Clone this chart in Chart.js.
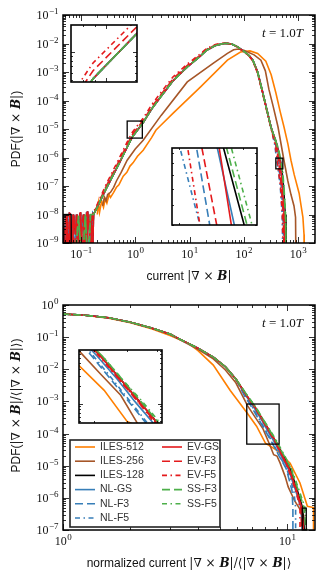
<!DOCTYPE html>
<html>
<head>
<meta charset="utf-8">
<script src="https://cdn.jsdelivr.net/npm/chart.js@4.4.0/dist/chart.umd.min.js"></script>
<style>
  html, body { margin: 0; padding: 0; background: #fff; }
  #wrap { position: relative; width: 325px; height: 581px; overflow: hidden; }
  canvas { position: absolute; background: #fff; }
</style>
</head>
<body>
<div id="wrap">
  <canvas id="top" width="325" height="290" style="left:0;top:0"></canvas>
  <canvas id="bot" width="325" height="291" style="left:0;top:290px"></canvas>
  <canvas id="insTop1" width="68" height="59" style="left:70px;top:24px"></canvas>
  <canvas id="insTop2" width="87" height="79" style="left:171px;top:147px"></canvas>
  <canvas id="insBot" width="85" height="75" style="left:78px;top:349px"></canvas>
</div>
<script>
// ---- data ----

const seriesNames = ['ILES-512', 'ILES-256', 'ILES-128', 'NL-GS', 'NL-F3', 'NL-F5',
                     'EV-GS', 'EV-F3', 'EV-F5', 'SS-F3', 'SS-F5'];

// top panel: PDF of current
const topOrangeX = [0.2, 0.21, 0.22, 0.24, 0.26, 0.28, 0.3, 0.33, 0.35, 0.4, 0.45, 0.5, 0.6, 0.7, 0.8, 0.91, 1.1, 1.4, 2, 2.4, 2.9, 5, 16, 50, 87, 130, 180, 255, 320, 392, 470, 550, 650, 741, 850, 1047, 1230, 1290, 1300];
const topOrangeY = [1e-8, 2.5e-8, 1.2e-8, 3e-8, 1.8e-8, 3.5e-8, 2.5e-8, 5e-8, 4e-8, 6e-8, 9e-8, 1.1e-7, 2.2e-7, 3e-7, 5e-7, 6.5e-7, 1.1e-6, 1.8e-6, 5e-6, 9e-6, 1.3e-5, 3.6e-5, 3e-4, 2.6e-3, 5e-3, 5.5e-3, 4.5e-3, 2.4e-3, 8e-4, 1.8e-4, 4e-5, 1.2e-5, 3e-6, 8e-7, 2.5e-7, 5.6e-8, 8e-9, 2e-9, 1e-10];
const topBrownX = [0.25, 0.27, 0.29, 0.31, 0.35, 0.4, 0.45, 0.55, 0.71, 1.0, 1.4, 3, 9.1, 28, 50, 65, 80, 100, 155, 207, 250, 290, 350, 427, 550, 650, 741, 843, 900, 918];
const topBrownY = [2e-8, 4e-8, 3e-8, 5e-8, 6e-8, 9e-8, 1.5e-7, 3e-7, 8e-7, 2e-6, 4e-6, 3e-5, 4.5e-4, 2.1e-3, 4.5e-3, 6e-3, 6.4e-3, 5.8e-3, 4e-3, 2.6e-3, 1.1e-3, 2.5e-4, 6e-5, 1.2e-5, 8e-7, 1.5e-7, 5e-8, 2e-8, 8e-9, 1e-10];

// noisy low-current bins of the LES runs
const topNoiseAX = [0.047, 0.051, 0.055, 0.059, 0.063, 0.068, 0.073, 0.079, 0.085, 0.091, 0.098, 0.106, 0.114, 0.123, 0.132, 0.142, 0.152, 0.162];
const topNoiseAY = [1e-8, 1e-10, 1e-8, 1e-10, 1.1e-8, 1e-10, 1e-8, 2e-9, 1e-8, 1e-10, 1.2e-8, 1e-10, 1e-8, 1e-10, 1.3e-8, 3e-9, 1e-8, 1e-10];
const topNoiseBX = [0.049, 0.053, 0.057, 0.061, 0.066, 0.071, 0.076, 0.082, 0.088, 0.095, 0.102, 0.11, 0.118, 0.127, 0.137, 0.147, 0.157, 0.165];
const topNoiseBY = [1e-10, 1e-8, 1e-10, 1.2e-8, 1e-10, 1e-8, 1e-10, 1e-8, 1e-10, 1.1e-8, 2e-9, 1e-8, 1e-10, 1.2e-8, 1e-10, 1e-8, 1e-10, 1.1e-8];
const topNoiseCX = [0.075, 0.09, 0.105, 0.12, 0.135, 0.15];
const topNoiseCY = [1e-10, 9e-9, 1e-10, 1e-8, 1e-10, 1e-8];

// body of the curve shared by the 128^3 runs
const topCoreX = [0.17, 0.2, 0.25, 0.3, 0.35, 0.5, 0.7, 0.88, 1.4, 2, 2.9, 5, 9.1, 15, 21, 30, 45, 60, 77, 105, 125, 147, 180, 225, 316];
const topCoreY = [1e-8, 1.8e-8, 4.5e-8, 9e-8, 1.6e-7, 6e-7, 2.2e-6, 5.2e-6, 1.7e-5, 5e-5, 1.3e-4, 5e-4, 1.5e-3, 3.3e-3, 5.9e-3, 8.5e-3, 1.02e-2, 9.6e-3, 7.6e-3, 5e-3, 3.8e-3, 2.6e-3, 1e-3, 1.8e-4, 1.2e-5];
const topCoreEvF3Y = [1.1e-8, 2e-8, 5.2e-8, 1.1e-7, 1.9e-7, 7.5e-7, 2.7e-6, 6.3e-6, 2e-5, 5.9e-5, 1.5e-4, 5.8e-4, 1.7e-3, 3.6e-3, 6.3e-3, 8.9e-3, 1.03e-2, 9.6e-3, 7.5e-3, 4.9e-3, 3.7e-3, 2.5e-3, 9.5e-4, 1.7e-4, 1.15e-5];
const topCoreEvF5Y = [1.2e-8, 2.3e-8, 6e-8, 1.3e-7, 2.3e-7, 9e-7, 3.3e-6, 7.6e-6, 2.4e-5, 7e-5, 1.8e-4, 6.8e-4, 1.9e-3, 4e-3, 6.8e-3, 9.3e-3, 1.05e-2, 9.6e-3, 7.4e-3, 4.8e-3, 3.6e-3, 2.4e-3, 9e-4, 1.6e-4, 1.1e-5];

// high-current tails, x where each run crosses these levels
const topTailY = [3e-6, 9.5e-7, 4e-7, 1e-7, 1e-8, 1e-10];
const topTailIles128 = [405, 467, 502, 540, 580, 600];
const topTailNlGs = [400, 457, 485, 520, 560, 580];
const topTailNlF3 = [385, 425, 445, 490, 530, 555];
const topTailNlF5 = [370, 401, 430, 470, 510, 530];
const topTailEvGs = [400, 460, 480, 515, 555, 575];
const topTailEvF3 = [390, 433, 456, 495, 535, 560];
const topTailEvF5 = [375, 412, 430, 475, 515, 540];
const topTailSsF3 = [405, 472, 507, 545, 585, 610];
const topTailSsF5 = [410, 480, 516, 550, 590, 615];

// bottom panel: PDF of normalized current
const botOrangeX = [0.98, 1.25, 1.6, 2, 2.5, 3, 3.6, 4, 4.68, 5.57, 6.6, 7.3, 8.0, 9.0, 10.3, 11.4, 12.3, 13.1, 13.1];
const botOrangeY = [0.53, 0.48, 0.39, 0.28, 0.18, 0.112, 0.066, 0.038, 0.0135, 2.2e-3, 4.5e-4, 1.7e-4, 5e-5, 3e-5, 1.2e-5, 2.9e-6, 5.5e-7, 5e-7, 1e-9];
const botBrownX = [0.98, 1.25, 1.6, 2, 2.5, 3, 3.33, 4, 4.68, 5.3, 5.9, 6.65, 7.2, 7.8, 8.3, 8.7, 9.0, 9.3, 9.8, 10.1, 10.8, 11.5, 11.8, 11.85];
const botBrownY = [0.53, 0.48, 0.4, 0.29, 0.19, 0.122, 0.082, 0.042, 0.021, 0.0095, 3.8e-3, 7.4e-4, 3.2e-4, 1.4e-4, 5e-5, 2.2e-5, 2e-5, 1.2e-5, 4.5e-6, 2.2e-6, 8e-7, 4e-7, 3e-7, 1e-9];
const botCoreX = [0.98, 1.25, 1.6, 2, 2.5, 3, 3.33, 4, 4.68, 5.3, 5.9];
const botCoreY = [0.53, 0.48, 0.4, 0.29, 0.19, 0.125, 0.085, 0.045, 0.024, 0.012, 5e-3];
const botTailY = [1.5e-3, 6.5e-4, 2.6e-4, 1.1e-4, 4.9e-5, 2e-5, 8e-6, 1.7e-6, 5e-7, 1e-7, 1e-9];
const botTailIles128 = [6.6, 7.2, 7.8, 8.4, 9.0, 9.6, 10.3, 11.1, 11.7, 11.9, 11.9];
const botTailNlGs = [6.55, 7.1, 7.7, 8.25, 8.85, 9.4, 10.1, 10.9, 11.5, 11.7, 11.7];
const botTailNlF3 = [6.45, 6.95, 7.5, 8.05, 8.6, 9.2, 9.9, 10.5, 10.6, 10.6, 10.6];
const botTailNlF5 = [6.5, 7.0, 7.55, 8.1, 8.65, 9.25, 9.95, 10.7, 10.9, 10.9, 10.9];
const botTailEvGs = [6.6, 7.2, 7.8, 8.4, 9.0, 9.55, 10.2, 11.0, 11.6, 11.8, 11.8];
const botTailEvF3 = [6.6, 7.2, 7.75, 8.35, 8.95, 9.5, 10.2, 11.0, 11.5, 11.6, 11.6];
const botTailEvF5 = [6.6, 7.15, 7.75, 8.35, 8.9, 9.5, 10.1, 10.9, 11.4, 11.4, 11.4];
const botTailSsF3 = [6.65, 7.25, 7.85, 8.45, 9.05, 9.7, 10.4, 11.2, 11.9, 12.1, 12.1];
const botTailSsF5 = [6.65, 7.25, 7.85, 8.5, 9.1, 9.75, 10.45, 11.3, 12.0, 12.2, 12.2];

// axis ranges and decade labels
const topXRange = [0.0466, 2055], topYRange = [1e-9, 1e-1];
const botXRange = [1, 13.3], botYRange = [1e-7, 1];
const topXExps = [-1, 0, 1, 2, 3];
const topYExps = [-9, -8, -7, -6, -5, -4, -3, -2, -1];
const botXExps = [0, 1];
const botYExps = [-7, -6, -5, -4, -3, -2, -1, 0];

// zoom boxes [xmin, xmax, ymin, ymax]
const topZoom1 = [0.71, 1.35, 4.8e-6, 1.9e-5];
const topZoom2 = [390, 525, 4e-7, 9.5e-7];
const topZoomLow = [0.048, 0.066, 1e-9, 1e-8];
const botZoom1 = [6.6, 9.2, 4.7e-5, 8.3e-4];
const botZoomTail = [11.67, 12.16, 1e-7, 4.8e-7];

// ---- styles ----
const ORANGE = '#ff7f00', BROWN = '#a65628', BLUE = '#377eb8', RED = '#e41a1c', GREEN = '#4daf4a';
const DASH = [8, 4], DASHDOT = [5, 3.5, 1.5, 3.5];
const seriesColors = [ORANGE, BROWN, '#000', BLUE, BLUE, BLUE, RED, RED, RED, GREEN, GREEN];
const seriesDashes = [[], [], [], [], DASH, DASHDOT, [], DASH, DASHDOT, DASH, DASHDOT];

const SANS = '"Liberation Sans", Arial, sans-serif';
const SERIF = '"DejaVu Serif", serif';
const TSERIF = '"Liberation Serif", serif';

function pts(xs, ys) {
  return xs.map((x, i) => ({ x: x, y: ys[i] }));
}

const topData = [
  [topOrangeX, topOrangeY],
  [topBrownX, topBrownY],
  [topNoiseAX.concat(topCoreX, topTailIles128), topNoiseAY.concat(topCoreY, topTailY)],
  [topNoiseBX.concat(topCoreX, topTailNlGs), topNoiseBY.concat(topCoreY, topTailY)],
  [topNoiseAX.concat(topCoreX, topTailNlF3), topNoiseAY.concat(topCoreY, topTailY)],
  [topNoiseBX.concat(topCoreX, topTailNlF5), topNoiseBY.concat(topCoreY, topTailY)],
  [topNoiseAX.concat(topCoreX, topTailEvGs), topNoiseAY.concat(topCoreY, topTailY)],
  [topNoiseBX.concat(topCoreX, topTailEvF3), topNoiseBY.concat(topCoreEvF3Y, topTailY)],
  [topNoiseAX.concat(topCoreX, topTailEvF5), topNoiseAY.concat(topCoreEvF5Y, topTailY)],
  [topNoiseCX.concat(topCoreX, topTailSsF3), topNoiseCY.concat(topCoreY, topTailY)],
  [topNoiseCX.concat(topCoreX, topTailSsF5), topNoiseCY.concat(topCoreY, topTailY)]
];

const botData = [
  [botOrangeX, botOrangeY],
  [botBrownX, botBrownY],
  [botCoreX.concat(botTailIles128), botCoreY.concat(botTailY)],
  [botCoreX.concat(botTailNlGs), botCoreY.concat(botTailY)],
  [botCoreX.concat(botTailNlF3), botCoreY.concat(botTailY)],
  [botCoreX.concat(botTailNlF5), botCoreY.concat(botTailY)],
  [botCoreX.concat(botTailEvGs), botCoreY.concat(botTailY)],
  [botCoreX.concat(botTailEvF3), botCoreY.concat(botTailY)],
  [botCoreX.concat(botTailEvF5), botCoreY.concat(botTailY)],
  [botCoreX.concat(botTailSsF3), botCoreY.concat(botTailY)],
  [botCoreX.concat(botTailSsF5), botCoreY.concat(botTailY)]
];

function makeSets(data) {
  // matplotlib draws later series on top, so lower order for later ones
  return data.map((d, i) => ({
    label: seriesNames[i],
    data: pts(d[0], d[1]),
    borderColor: seriesColors[i],
    borderDash: seriesDashes[i],
    borderWidth: 1.6,
    pointRadius: 0,
    fill: false,
    tension: 0,
    order: 10 - i
  }));
}

// ---- drawing helpers ----
function logTicks(min, max) {
  const out = [];
  for (let e = Math.floor(Math.log10(min)); e <= Math.ceil(Math.log10(max)); e++) {
    for (let m = 1; m < 10; m++) {
      const v = m * Math.pow(10, e);
      if (v >= min * 0.9999 && v <= max * 1.0001) out.push({ v: v, major: m === 1 });
    }
  }
  return out;
}

function expLabel(ctx, exp, x, y, align) {
  const base = '10';
  const sup = (exp < 0 ? '\u2212' : '') + Math.abs(exp);
  ctx.font = '12px ' + TSERIF;
  const wb = ctx.measureText(base).width;
  ctx.font = '9px ' + TSERIF;
  const ws = ctx.measureText(sup).width;
  const x0 = align === 'right' ? x - wb - ws : x - (wb + ws) / 2;
  ctx.textAlign = 'left';
  ctx.font = '12px ' + TSERIF;
  ctx.fillText(base, x0, y);
  ctx.font = '9px ' + TSERIF;
  ctx.fillText(sup, x0 + wb + 0.5, y - 5);
}

function richWidth(ctx, segs) {
  let w = 0;
  segs.forEach(s => { ctx.font = s[1]; w += ctx.measureText(s[0]).width; });
  return w;
}

function drawRich(ctx, segs, cx, y) {
  let x = cx - richWidth(ctx, segs) / 2;
  ctx.textAlign = 'left';
  segs.forEach(s => { ctx.font = s[1]; ctx.fillText(s[0], x, y); x += ctx.measureText(s[0]).width; });
}

const curlB = [
  ['|\u2207 \u00d7 ', '12px ' + SERIF],
  ['B', 'bold italic 12px ' + SERIF],
  ['|', '12px ' + SERIF]
];
const normB = [['/\u27e8', '12px ' + SERIF]].concat(curlB, [['\u27e9', '12px ' + SERIF]]);

function timeLabel(ctx, right, y) {
  const segs = [['t', 'italic 13px ' + TSERIF], [' = 1.0', '13px ' + TSERIF], ['T', 'italic 13px ' + TSERIF]];
  drawRich(ctx, segs, right - richWidth(ctx, segs) / 2, y);
}

function box(ctx, sx, sy, b) {
  const x0 = sx.getPixelForValue(b[0]), x1 = sx.getPixelForValue(b[1]);
  const y0 = sy.getPixelForValue(b[3]), y1 = sy.getPixelForValue(b[2]);
  ctx.strokeRect(x0, y0, x1 - x0, y1 - y0);
}

// frame, inward log ticks, labels, zoom boxes
function framePlugin(cfg) {
  return {
    id: 'frame',
    afterDatasetsDraw(chart) {
      const ctx = chart.ctx, a = chart.chartArea;
      const sx = chart.scales.x, sy = chart.scales.y;
      ctx.save();
      ctx.strokeStyle = '#000';
      ctx.fillStyle = '#000';

      ctx.lineWidth = 1.3;
      (cfg.boxes || []).forEach(b => box(ctx, sx, sy, b));

      ctx.lineWidth = 0.8;
      ctx.beginPath();
      logTicks(sx.min, sx.max).forEach(t => {
        const p = Math.round(sx.getPixelForValue(t.v)) + 0.5;
        const len = t.major ? cfg.major : cfg.minor;
        ctx.moveTo(p, a.bottom); ctx.lineTo(p, a.bottom - len);
        ctx.moveTo(p, a.top); ctx.lineTo(p, a.top + len);
      });
      logTicks(sy.min, sy.max).forEach(t => {
        const p = Math.round(sy.getPixelForValue(t.v)) + 0.5;
        const len = t.major ? cfg.major : cfg.minor;
        ctx.moveTo(a.left, p); ctx.lineTo(a.left + len, p);
        ctx.moveTo(a.right, p); ctx.lineTo(a.right - len, p);
      });
      ctx.stroke();

      ctx.lineWidth = cfg.frame;
      ctx.strokeRect(a.left, a.top, a.right - a.left, a.bottom - a.top);

      ctx.fillStyle = '#111';
      (cfg.xExps || []).forEach(e => expLabel(ctx, e, sx.getPixelForValue(Math.pow(10, e)), a.bottom + 15, 'center'));
      (cfg.yExps || []).forEach(e => expLabel(ctx, e, a.left - 5, sy.getPixelForValue(Math.pow(10, e)) + 4, 'right'));

      if (cfg.xTitle) drawRich(ctx, cfg.xTitle, (a.left + a.right) / 2, cfg.xTitleY);
      if (cfg.yTitle) {
        ctx.save();
        ctx.translate(cfg.yTitleX, (a.top + a.bottom) / 2 + (cfg.yTitleDy || 0));
        ctx.rotate(-Math.PI / 2);
        drawRich(ctx, cfg.yTitle, 0, 0);
        ctx.restore();
      }
      if (cfg.time) timeLabel(ctx, a.right - 12, a.top + 22);
      if (cfg.legend) drawLegend(ctx);
      ctx.restore();
    }
  };
}

function drawLegend(ctx) {
  const bx = 70, by = 150, bw = 150, bh = 87;
  ctx.fillStyle = '#fff';
  ctx.fillRect(bx, by, bw, bh);
  ctx.strokeStyle = '#222';
  ctx.lineWidth = 1.6;
  ctx.strokeRect(bx, by, bw, bh);
  ctx.font = '10.5px ' + SANS;
  ctx.textAlign = 'left';
  ctx.textBaseline = 'middle';
  seriesNames.forEach((name, i) => {
    const col = i < 6 ? 0 : 1;
    const row = i < 6 ? i : i - 6;
    const lx = col === 0 ? 75 : 162;
    const y = by + 7 + row * 14.2;
    ctx.strokeStyle = seriesColors[i];
    ctx.lineWidth = 1.6;
    ctx.setLineDash(seriesDashes[i]);
    ctx.beginPath();
    ctx.moveTo(lx, y); ctx.lineTo(lx + 20, y);
    ctx.stroke();
    ctx.setLineDash([]);
    ctx.fillStyle = '#333';
    ctx.fillText(name, lx + 25, y);
  });
  ctx.textBaseline = 'alphabetic';
}

function makeChart(id, data, xr, yr, padding, cfg) {
  return new Chart(document.getElementById(id), {
    type: 'line',
    data: { datasets: makeSets(data) },
    options: {
      responsive: false,
      animation: false,
      events: [],
      layout: { padding: padding },
      scales: {
        x: { type: 'logarithmic', min: xr[0], max: xr[1], display: false },
        y: { type: 'logarithmic', min: yr[0], max: yr[1], display: false }
      },
      plugins: { legend: { display: false }, tooltip: { enabled: false } }
    },
    plugins: [framePlugin(cfg)]
  });
}

// ---- main panels ----
makeChart('top', topData, topXRange, topYRange,
  { left: 63, right: 10, top: 15, bottom: 47 },
  {
    major: 6, minor: 3, frame: 1.5,
    xExps: topXExps, yExps: topYExps,
    boxes: [topZoom1, topZoom2, topZoomLow],
    xTitle: [['current ', '12px ' + SANS]].concat(curlB), xTitleY: 280,
    yTitle: [['PDF(', '12px ' + SANS]].concat(curlB, [[')', '12px ' + SANS]]), yTitleX: 20,
    time: true
  });

makeChart('bot', botData, botXRange, botYRange,
  { left: 63, right: 10, top: 15, bottom: 51 },
  {
    major: 6, minor: 3, frame: 1.5,
    xExps: botXExps, yExps: botYExps,
    boxes: [botZoom1, botZoomTail],
    xTitle: [['normalized current ', '12px ' + SANS]].concat(curlB, normB), xTitleY: 277,
    yTitle: [['PDF(', '12px ' + SANS]].concat(curlB, normB, [[')', '12px ' + SANS]]), yTitleX: 20, yTitleDy: -12,
    time: true, legend: true
  });

// ---- insets: same runs, zoomed to the boxes ----
const pad0 = { left: 1, right: 1, top: 1, bottom: 1 };
makeChart('insTop1', topData, [topZoom1[0], topZoom1[1]], [topZoom1[2], topZoom1[3]], pad0, { major: 4, minor: 2, frame: 1.6 });
makeChart('insTop2', topData, [topZoom2[0], topZoom2[1]], [topZoom2[2], topZoom2[3]], pad0, { major: 4, minor: 2, frame: 1.6 });
makeChart('insBot', botData, [botZoom1[0], botZoom1[1]], [botZoom1[2], botZoom1[3]], pad0, { major: 4, minor: 2, frame: 1.6 });
</script>
</body>
</html>
